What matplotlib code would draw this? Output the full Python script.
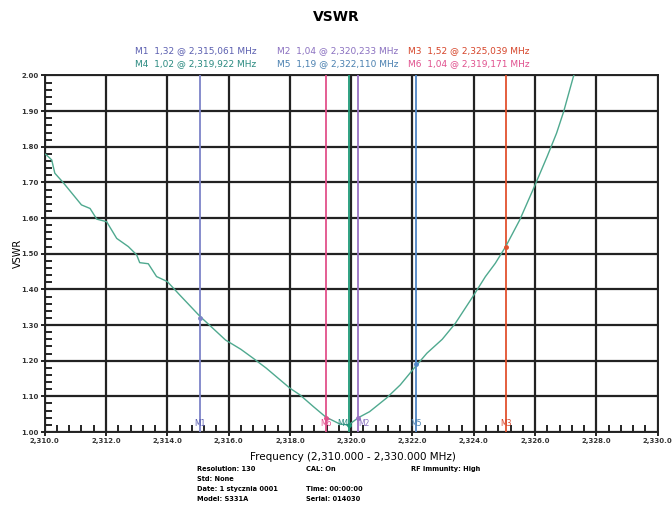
import matplotlib
matplotlib.use("Agg")
import matplotlib.pyplot as plt
from matplotlib.ticker import MultipleLocator, FuncFormatter

# ---- data ----
freq = [2310.0, 2310.06, 2310.23, 2310.33, 2310.6, 2311.2, 2311.48, 2311.7, 2312.02,
        2312.35, 2312.73, 2313.0, 2313.1, 2313.38, 2313.65, 2314.0, 2314.41, 2315.06,
        2315.9, 2316.4, 2316.8, 2317.23, 2318.0, 2318.33, 2318.77, 2319.17, 2319.64,
        2319.92, 2320.23, 2320.6, 2321.15, 2321.6, 2322.11, 2322.47, 2322.97, 2323.4,
        2323.97, 2324.38, 2324.7, 2325.04, 2325.5, 2326.0, 2326.39, 2326.7, 2326.93,
        2327.25, 2327.4]
vswr = [1.78, 1.777, 1.763, 1.726, 1.70, 1.637, 1.627, 1.597, 1.590,
        1.543, 1.52, 1.497, 1.475, 1.472, 1.436, 1.422, 1.384, 1.325,
        1.258, 1.232, 1.207, 1.179, 1.123, 1.104, 1.071, 1.042, 1.022,
        1.02, 1.04, 1.057, 1.095, 1.132, 1.185, 1.221, 1.26, 1.305,
        1.38, 1.436, 1.473, 1.52, 1.595, 1.693, 1.772, 1.838, 1.898,
        1.997, 2.03]

marker_names = ["M1", "M2", "M3", "M4", "M5", "M6"]
marker_freq = [2315.061, 2320.233, 2325.039, 2319.922, 2322.110, 2319.171]
marker_vswr = [1.32, 1.04, 1.52, 1.02, 1.19, 1.04]
marker_colors = ["#7d84c8", "#9a72c4", "#e2522e", "#1f9a78", "#4f86c6", "#e2508a"]
marker_text_colors = ["#5b5fb0", "#8a70c0", "#d6452a", "#2a8a80", "#4a80b0", "#e0508e"]
marker_label_ha = ["center", "left", "center", "right", "center", "center"]

title = "VSWR"
xlabel = "Frequency (2,310.000 - 2,330.000 MHz)"
ylabel = "VSWR"
footer = [
    ("Resolution: 130", 0), ("CAL: On", 1), ("RF Immunity: High", 2),
    ("Std: None", 0),
    ("Date: 1 stycznia 0001", 0), ("Time: 00:00:00", 1),
    ("Model: S331A", 0), ("Serial: 014030", 1),
]
footer_rows = [0, 0, 0, 1, 2, 2, 3, 3]

fig = plt.figure(figsize=(6.72, 5.08), dpi=100)
ax = fig.add_axes([0.0665, 0.1496, 0.9122, 0.7018])

ax.set_xlim(2310, 2330)
ax.set_ylim(1.0, 2.0)
ax.xaxis.set_major_locator(MultipleLocator(2))
ax.xaxis.set_minor_locator(MultipleLocator(0.4))
ax.yaxis.set_major_locator(MultipleLocator(0.1))
ax.yaxis.set_minor_locator(MultipleLocator(0.02))
ax.xaxis.set_major_formatter(FuncFormatter(lambda v, p: f"{v:,.1f}"))
ax.yaxis.set_major_formatter(FuncFormatter(lambda v, p: f"{v:.2f}"))
ax.grid(True, which="major", color="#222222", linewidth=1.6)
ax.tick_params(which="major", direction="out", length=3, width=1.2, labelsize=5, pad=1.5)
ax.tick_params(which="minor", direction="in", length=5, width=1.2)
ax.tick_params(axis="x", which="minor", bottom=True)
for lab in ax.get_xticklabels() + ax.get_yticklabels():
    lab.set_fontweight("bold")
    lab.set_color("#333333")
for s in ax.spines.values():
    s.set_linewidth(1.4)
    s.set_color("#222222")

# marker vertical lines
for f, c in zip(marker_freq, marker_colors):
    ax.axvline(f, color=c, linewidth=1.3, zorder=3)

ax.plot(freq, vswr, color="#4fa98f", linewidth=1.0, zorder=4)

for n, f, v, c, tc, ha in zip(marker_names, marker_freq, marker_vswr, marker_colors,
                              marker_text_colors, marker_label_ha):
    ax.plot([f], [v], "o", color=c, markersize=2.5, zorder=5)
    ax.text(f, 1.012, n, color=tc, fontsize=5.5, ha=ha, va="bottom", zorder=6)

fig.text(0.5, 0.966, title, ha="center", va="center", fontsize=10, fontweight="bold")
ax.set_xlabel(xlabel, fontsize=7.5)
ax.xaxis.set_label_coords(0.503, -0.07)
ax.xaxis.label.set_va("center")
ax.set_ylabel(ylabel, fontsize=7)
ax.yaxis.set_label_coords(-0.044, 0.5)
ax.yaxis.label.set_va("center")

# marker readout legend
col_x = [135, 277, 408]
row_y = [51, 64]
for i, (n, f, v, tc) in enumerate(zip(marker_names, marker_freq, marker_vswr, marker_text_colors)):
    col = i % 3
    row = i // 3
    s = f"{n}  {v:.2f}".replace(".", ",") + " @ " + f"{f:,.3f}".replace(",", "X").replace(".", ",").replace("X", ",") + " MHz"
    fig.text(col_x[col] / 672, 1 - row_y[row] / 508, s, color=tc, fontsize=6.5,
             ha="left", va="center")

# footer
fx = [197, 306, 411]
fy = [469, 479, 489, 499]
for (t, c), r in zip(footer, footer_rows):
    fig.text(fx[c] / 672, 1 - fy[r] / 508, t, fontsize=4.8, fontweight="bold",
             ha="left", va="center")

fig.savefig("out.png", dpi=100)
